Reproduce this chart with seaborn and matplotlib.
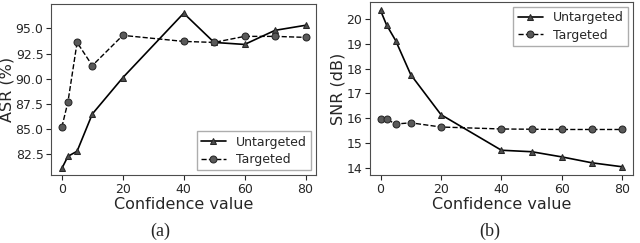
import matplotlib
matplotlib.use('Agg')
import matplotlib.pyplot as plt
import pandas as pd
import seaborn as sns

confidence = [0, 2, 5, 10, 20, 40, 50, 60, 70, 80]

asr_untargeted = [81.1, 82.3, 82.8, 86.5, 90.1, 96.5, 93.6, 93.4, 94.8, 95.3]
asr_targeted = [85.2, 87.7, 93.6, 91.3, 94.3, 93.7, 93.6, 94.2, 94.2, 94.1]

snr_untargeted = [20.36, 19.77, 19.14, 17.76, 16.14, 14.70, 14.64, 14.43, 14.19, 14.03]
snr_targeted = [15.96, 15.96, 15.76, 15.81, 15.64, 15.56, 15.55, 15.54, 15.54, 15.54]

sns.set_style('ticks')
plt.rcParams['font.family'] = ['DejaVu Sans']

fig = plt.figure(figsize=(6.4, 2.43), dpi=100)
ax1 = fig.add_axes([0.080, 0.278, 0.414, 0.705])
ax2 = fig.add_axes([0.578, 0.280, 0.411, 0.712])


def draw(ax, unt, tar, ylabel, loc):
    df = pd.DataFrame({'x': confidence, 'Untargeted': unt, 'Targeted': tar})
    sns.lineplot(data=df, x='x', y='Untargeted', ax=ax, color='k', marker='^',
                 markersize=5, linewidth=1.2, markeredgecolor='0.15',
                 markerfacecolor='0.3', label='Untargeted')
    sns.lineplot(data=df, x='x', y='Targeted', ax=ax, color='k', marker='o',
                 markersize=5, linewidth=1.0, linestyle='--', markeredgecolor='0.15',
                 markerfacecolor='0.35', label='Targeted')
    ax.set_xlabel('Confidence value', fontsize=11.5, labelpad=1)
    ax.set_ylabel(ylabel, fontsize=11.5, labelpad=1)
    ax.set_xticks([0, 20, 40, 60, 80])
    ax.tick_params(labelsize=9, length=3.5, pad=2)
    for s in ax.spines.values():
        s.set_color('0.3')
    leg = ax.legend(loc=loc, fontsize=9, fancybox=False, frameon=True,
                    handlelength=2.0, borderpad=0.35, labelspacing=0.35,
                    borderaxespad=0.4)
    leg.get_frame().set_edgecolor('0.6')


draw(ax1, asr_untargeted, asr_targeted, 'ASR (%)', 'lower right')
ax1.set_xlim(-3.5, 83.5)
ax1.set_ylim(80.4, 97.4)
ax1.set_yticks([82.5, 85.0, 87.5, 90.0, 92.5, 95.0])
ax1.set_yticklabels(['82.5', '85.0', '87.5', '90.0', '92.5', '95.0'])

draw(ax2, snr_untargeted, snr_targeted, 'SNR (dB)', 'upper right')
ax2.set_xlim(-3.5, 83.5)
ax2.set_ylim(13.7, 20.7)
ax2.set_yticks([14, 15, 16, 17, 18, 19, 20])

fig.text(0.25, 0.012, '(a)', ha='center', va='bottom', fontsize=13, family='Liberation Serif')
fig.text(0.765, 0.012, '(b)', ha='center', va='bottom', fontsize=13, family='Liberation Serif')

fig.savefig('out.png', dpi=100)
